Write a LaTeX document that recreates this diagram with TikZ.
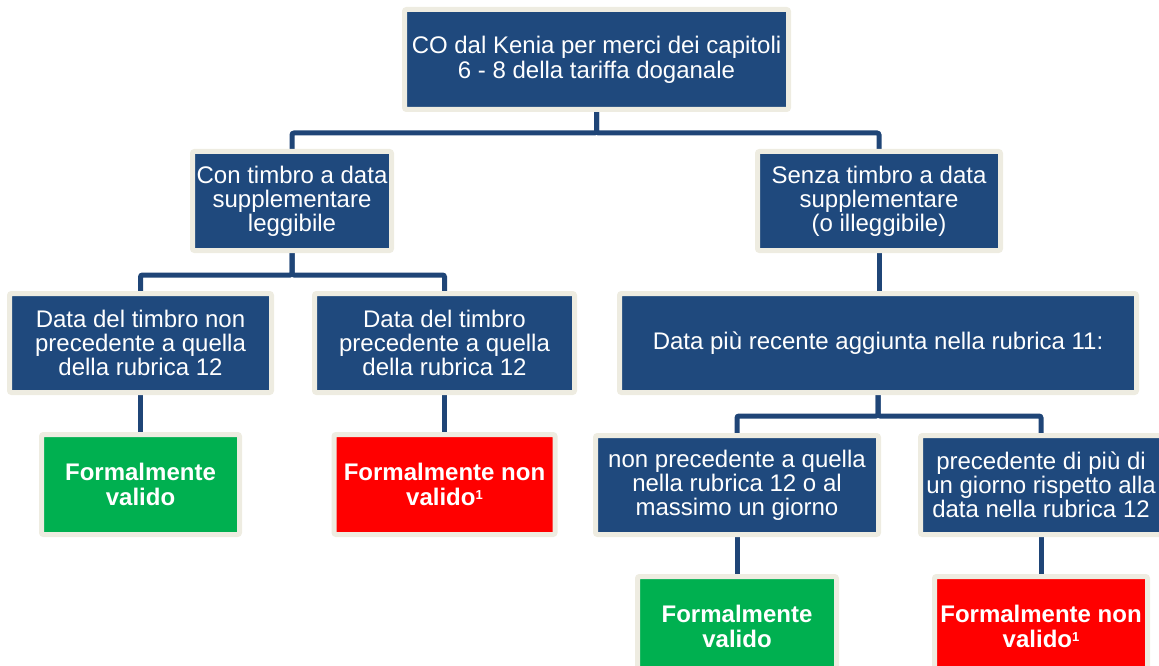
\documentclass[tikz,border=0pt]{standalone}
\usepackage{fontspec}
\setmainfont{Liberation Sans}
\usetikzlibrary{backgrounds}
\definecolor{boxblue}{HTML}{1F497D}
\definecolor{edgebeige}{HTML}{EEECE1}
\definecolor{okgreen}{HTML}{00B050}
\definecolor{nored}{HTML}{FF0000}
\definecolor{lineblue}{HTML}{1F4577}
\tikzset{
  box/.style={draw=edgebeige, line width=5pt, rounded corners=2pt, fill=boxblue,
    text=white, inner sep=0pt, align=center, font=\fontsize{24}{24}\selectfont},
  okbox/.style={box, fill=okgreen, font=\fontsize{24}{25}\selectfont\bfseries},
  nobox/.style={box, fill=nored, font=\fontsize{24}{25}\selectfont\bfseries},
  link/.style={draw=lineblue, line width=5pt, rounded corners=2pt}
}
\newcommand{\supone}{\raisebox{6pt}{\fontsize{13}{13}\selectfont\bfseries 1}}
\begin{document}
\begin{tikzpicture}[x=1pt,y=-1pt]
\useasboundingbox (0,0) rectangle (1159,666);
\clip (0,0) rectangle (1159,666);

\node[box, minimum width=384pt, minimum height=100pt, font=\fontsize{24}{25}\selectfont] (top) at (596.5,59.5)
  {CO dal Kenia per merci dei capitoli\\6 - 8 della tariffa doganale};

\node[box, minimum width=199pt, minimum height=99pt] (l2a) at (292,201)
  {Con timbro a data\\supplementare\\leggibile};
\node[box, minimum width=243pt, minimum height=99pt] (l2b) at (879,201)
  {Senza timbro a data\\supplementare\\(o illeggibile)};

\node[box, minimum width=262pt, minimum height=99pt] (l3a) at (140.5,343)
  {Data del timbro non\\precedente a quella\\della rubrica 12};
\node[box, minimum width=260pt, minimum height=99pt] (l3b) at (444.5,343)
  {Data del timbro\\precedente a quella\\della rubrica 12};
\node[box, minimum width=517pt, minimum height=99pt] (l3c) at (878,343)
  {Data più recente aggiunta nella rubrica 11:};

\node[okbox, minimum width=198pt, minimum height=100pt] (g1) at (140.5,484.5)
  {Formalmente\\valido};
\node[nobox, minimum width=221pt, minimum height=100pt] (r1) at (444.5,484.5)
  {Formalmente non\\valido\supone};

\node[box, minimum width=283pt, minimum height=99pt] (l4a) at (737,485)
  {non precedente a quella\\nella rubrica 12 o al\\massimo un giorno};
\node[box, minimum width=241pt, minimum height=99pt] (l4b) at (1041,485)
  {precedente di più di\\un giorno rispetto alla\\data nella rubrica 12};

\node[okbox, minimum width=199pt, minimum height=100pt] (g2) at (737,626.5)
  {Formalmente\\valido};
\node[nobox, minimum width=213pt, minimum height=100pt] (r2) at (1041,626.5)
  {Formalmente non\\valido\supone};

\begin{scope}[on background layer]
  \draw[link] (top.south) -- ++(0,21) -| (l2a.north);
  \draw[link] (top.south) -- ++(0,21) -| (l2b.north);
  \draw[link] (l2a.south) -- ++(0,22) -| (l3a.north);
  \draw[link] (l2a.south) -- ++(0,22) -| (l3b.north);
  \draw[link] (l2b.south) -- (l2b.south |- l3c.north);
  \draw[link] (l3c.south) -- ++(0,21) -| (l4a.north);
  \draw[link] (l3c.south) -- ++(0,21) -| (l4b.north);
  \draw[link] (l3a.south) -- (g1.north);
  \draw[link] (l3b.south) -- (r1.north);
  \draw[link] (l4a.south) -- (g2.north);
  \draw[link] (l4b.south) -- (r2.north);
\end{scope}
\end{tikzpicture}
\end{document}
